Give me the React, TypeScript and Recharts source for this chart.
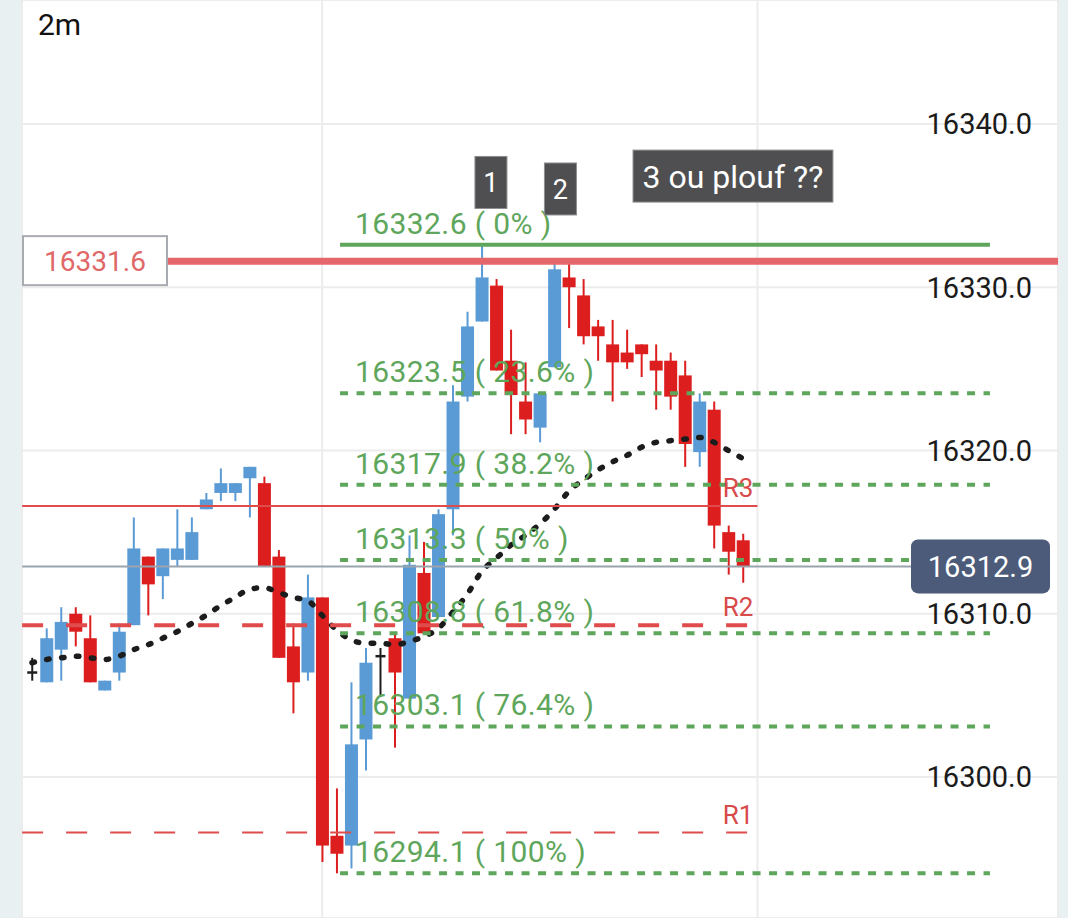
import React from "react";
import {
  ComposedChart,
  Bar,
  Line,
  XAxis,
  YAxis,
  CartesianGrid,
  ReferenceLine,
  ReferenceDot,
} from "recharts";

// 2m candles
const opens = [
  16306.4, 16305.8, 16307.8, 16310.0, 16308.5, 16305.3, 16306.4, 16309.3, 16313.5, 16312.3,
  16313.3, 16313.3, 16316.4, 16317.4, 16317.4, 16318.3, 16318.0, 16313.5, 16308.0, 16306.4,
  16311.0, 16296.4, 16295.8, 16302.3, 16307.4, 16308.5, 16304.8, 16312.5, 16309.8, 16316.4,
  16323.3, 16327.9, 16330.1, 16325.5, 16323.0, 16321.4, 16325.1, 16330.6, 16329.5, 16327.6,
  16326.5, 16326.0, 16326.5, 16325.5, 16325.5, 16324.6, 16319.9, 16322.5, 16315.0, 16314.5,
];
const highs = [
  16307.3, 16309.1, 16310.4, 16310.4, 16309.9, 16305.9, 16309.4, 16315.9, 16313.5, 16314.0,
  16316.4, 16315.9, 16317.4, 16318.9, 16318.0, 16319.0, 16318.4, 16313.9, 16309.4, 16312.4,
  16311.0, 16299.3, 16305.8, 16307.9, 16307.9, 16308.8, 16314.8, 16314.4, 16316.4, 16324.0,
  16328.5, 16332.6, 16330.5, 16327.4, 16325.4, 16323.5, 16331.6, 16331.5, 16330.5, 16328.0,
  16328.0, 16327.4, 16326.5, 16326.5, 16326.0, 16325.5, 16323.5, 16323.0, 16315.4, 16314.9,
];
const lows = [
  16305.9, 16305.8, 16305.9, 16308.0, 16305.8, 16305.3, 16305.9, 16309.3, 16309.9, 16310.9,
  16312.9, 16313.3, 16316.4, 16316.9, 16316.9, 16315.9, 16312.9, 16307.3, 16303.9, 16305.9,
  16294.8, 16294.1, 16294.4, 16300.4, 16304.9, 16301.8, 16304.8, 16308.8, 16309.8, 16314.8,
  16323.0, 16327.9, 16324.9, 16321.0, 16321.0, 16320.5, 16325.1, 16327.5, 16326.5, 16325.5,
  16323.0, 16325.0, 16324.5, 16322.5, 16322.5, 16319.0, 16319.0, 16314.0, 16312.4, 16311.9,
];
const closes = [
  16306.4, 16308.5, 16309.5, 16308.9, 16305.8, 16305.9, 16308.9, 16314.0, 16311.8, 16314.0,
  16314.0, 16315.0, 16317.0, 16318.0, 16318.0, 16319.0, 16312.9, 16307.3, 16305.8, 16311.0,
  16295.8, 16295.3, 16302.0, 16307.0, 16307.4, 16306.4, 16313.0, 16308.8, 16316.1, 16323.0,
  16327.6, 16330.6, 16324.9, 16323.4, 16321.9, 16323.5, 16331.1, 16330.0, 16327.0, 16327.0,
  16325.4, 16325.4, 16325.9, 16324.9, 16323.3, 16320.4, 16323.0, 16315.4, 16313.8, 16312.9,
];
// dotted moving average
const maValues = [
  16307.0, 16307.2, 16307.3, 16307.4, 16307.3, 16307.2, 16307.4, 16307.8, 16308.1, 16308.5,
  16308.9, 16309.4, 16309.9, 16310.5, 16311.0, 16311.5, 16311.6, 16311.3, 16311.0, 16310.8,
  16309.9, 16309.0, 16308.4, 16308.2, 16308.2, 16308.1, 16308.3, 16308.6, 16309.1, 16310.1,
  16311.2, 16312.6, 16313.4, 16314.2, 16314.8, 16315.5, 16316.4, 16317.5, 16318.2, 16318.8,
  16319.3, 16319.7, 16320.2, 16320.5, 16320.6, 16320.7, 16320.8, 16320.5, 16320.0, 16319.5,
];

const priceTicks = [16300, 16310, 16320, 16330, 16340];
const timeTicks = [20, 50];

const fibLevels = [16332.6, 16323.5, 16317.9, 16313.3, 16308.8, 16303.1, 16294.1];
const fibPcts = ["0%", "23.6%", "38.2%", "50%", "61.8%", "76.4%", "100%"];

const pivotNames = ["R1", "R2", "R3"];
const pivotLevels = [16296.6, 16309.3, 16316.6];

const alertPrice = 16331.6;
const lastPrice = 16312.9;

const noteTexts = ["1", "2", "3 ou plouf ??"];
const noteBars = [31.63, 36.42, 48.31];
const notePrices = [16336.42, 16336.02, 16336.81];

const BLUE = "#5b9bd5";
const RED = "#dc1e1e";
const DOJI = "#1e1e1e";
const GREEN = "#5ea65b";
const FONT = "Roboto, 'Noto Sans', sans-serif";

const rows = opens.map((o, i) => ({
  i,
  o,
  h: highs[i],
  l: lows[i],
  c: closes[i],
  range: [lows[i], highs[i]],
  ma: maValues[i],
}));

const Candle = (props: any) => {
  const { x, y, width, height, payload } = props;
  if (x == null || !payload) return null;
  const top = Math.min(y, y + height);
  const h = Math.abs(height);
  const span = payload.h - payload.l || 1;
  const toY = (v: number) => top + ((payload.h - v) / span) * h;
  const cx = x + width / 2;
  const color = payload.c > payload.o ? BLUE : payload.c < payload.o ? RED : DOJI;
  const bTop = toY(Math.max(payload.o, payload.c));
  const bBot = toY(Math.min(payload.o, payload.c));
  return (
    <g>
      <line x1={cx} x2={cx} y1={top} y2={top + h} stroke={color} strokeWidth={2} />
      {payload.c === payload.o ? (
        <line x1={cx - 5} x2={cx + 5} y1={bTop} y2={bTop} stroke={color} strokeWidth={2.5} />
      ) : (
        <rect x={cx - 6.5} y={bTop} width={13} height={Math.max(1.5, bBot - bTop)} fill={color} />
      )}
    </g>
  );
};

const PriceTick = (props: any) => {
  const { x, y, payload } = props;
  return (
    <text x={x - 26} y={y} dy="0.36em" textAnchor="end" fontSize={29} fill="#1b1b1b" fontFamily={FONT}>
      {Number(payload.value).toFixed(1)}
    </text>
  );
};

const fibLabel = (text: string) => (p: any) => {
  const vb = p.viewBox;
  return (
    <text x={vb.x + 15} y={vb.y - 11} fontSize={30} letterSpacing={0.4} fill={GREEN} fontFamily={FONT}>
      {text}
    </text>
  );
};

const pivotLabel = (text: string) => (p: any) => {
  const vb = p.viewBox;
  return (
    <text x={vb.x + vb.width - 4} y={vb.y - 9} textAnchor="end" fontSize={26} fill="#d94a4a" fontFamily={FONT}>
      {text}
    </text>
  );
};

const AlertLabel = (p: any) => {
  const vb = p.viewBox;
  return (
    <g>
      <rect x={23} y={vb.y - 25} width={144} height={49} fill="#ffffff" stroke="#a9abb2" strokeWidth={2} />
      <text x={95} y={vb.y} dy="0.36em" textAnchor="middle" fontSize={28} fill="#e06868" fontFamily={FONT}>
        {alertPrice.toFixed(1)}
      </text>
    </g>
  );
};

const LastTag = (p: any) => {
  const vb = p.viewBox;
  const x0 = vb.x + vb.width;
  return (
    <g>
      <rect x={x0} y={vb.y - 27} width={139} height={54} rx={7} fill="#4b5b79" />
      <text x={x0 + 69.5} y={vb.y} dy="0.36em" textAnchor="middle" fontSize={29} fill="#ffffff" fontFamily={FONT}>
        {lastPrice.toFixed(1)}
      </text>
    </g>
  );
};

const NoteBox = ({ cx, cy, text }: { cx: number; cy: number; text: string }) => {
  const big = text.length > 2;
  const w = big ? text.length * 14.3 + 14 : 32;
  return (
    <g>
      <rect x={cx - w / 2} y={cy - 26} width={w} height={52} fill="#4f4f51" stroke="#8e8e90" strokeWidth={1} />
      <text x={cx} y={cy} dy="0.36em" textAnchor="middle" fontSize={big ? 32 : 27} fill="#ffffff" fontFamily={FONT}>
        {text}
      </text>
    </g>
  );
};

const FIB_FROM = 21.23;
const FIB_TO = 66.02;
const LEFT_EDGE = -0.68;

export default function App() {
  return (
    <div
      style={{
        position: "absolute",
        left: 0,
        top: 0,
        width: 1068,
        height: 918,
        overflow: "hidden",
        background: "#e8f0f2",
        fontFamily: FONT,
      }}
    >
      <ComposedChart width={1068} height={918} data={rows} margin={{ top: 0, right: 9, bottom: 0, left: 22 }}>
        <CartesianGrid stroke="#ececec" strokeWidth={2} fill="#ffffff" />
        <XAxis
          dataKey="i"
          type="number"
          domain={[-0.689, 70.71]}
          allowDataOverflow
          ticks={timeTicks}
          hide
        />
        <YAxis
          orientation="right"
          type="number"
          domain={[16291.363, 16347.596]}
          allowDataOverflow
          ticks={priceTicks}
          interval={0}
          width={1}
          tickSize={0}
          tickMargin={0}
          tickLine={false}
          axisLine={false}
          tick={<PriceTick />}
        />
        <Bar dataKey="range" barSize={13} shape={Candle} isAnimationActive={false} />
        <Line
          dataKey="ma"
          type="monotone"
          stroke="#1c1c1c"
          strokeWidth={5.5}
          strokeDasharray="2.5 12.5"
          strokeLinecap="round"
          dot={false}
          activeDot={false}
          isAnimationActive={false}
        />
        <ReferenceLine y={alertPrice} stroke="#e5676b" strokeWidth={7} label={AlertLabel} />
        {fibLevels.map((lvl, k) => (
          <ReferenceLine
            key={"fib" + k}
            segment={[
              { x: FIB_FROM, y: lvl },
              { x: FIB_TO, y: lvl },
            ]}
            stroke={GREEN}
            strokeWidth={4}
            strokeDasharray={k === 0 ? undefined : "8 8.5"}
            label={fibLabel(`${lvl.toFixed(1)} ( ${fibPcts[k]} )`)}
          />
        ))}
        {pivotLevels.map((lvl, k) => (
          <ReferenceLine
            key={"piv" + k}
            segment={[
              { x: LEFT_EDGE, y: lvl },
              { x: 50, y: lvl },
            ]}
            stroke="#e04c4c"
            strokeWidth={k === 1 ? 4 : 2}
            strokeDasharray={k === 2 ? undefined : "21 23"}
            label={pivotLabel(pivotNames[k])}
          />
        ))}
        <ReferenceLine
          segment={[
            { x: LEFT_EDGE, y: lastPrice },
            { x: 60.58, y: lastPrice },
          ]}
          stroke="#9aa4ae"
          strokeWidth={2}
          label={LastTag}
        />
        {noteTexts.map((t, k) => (
          <ReferenceDot
            key={"note" + k}
            x={noteBars[k]}
            y={notePrices[k]}
            r={0}
            shape={(p: any) => <NoteBox cx={p.cx} cy={p.cy} text={t} />}
          />
        ))}
      </ComposedChart>
      <div
        style={{
          position: "absolute",
          left: 38,
          top: 10,
          fontSize: 30,
          lineHeight: "30px",
          color: "#111111",
        }}
      >
        2m
      </div>
    </div>
  );
}
